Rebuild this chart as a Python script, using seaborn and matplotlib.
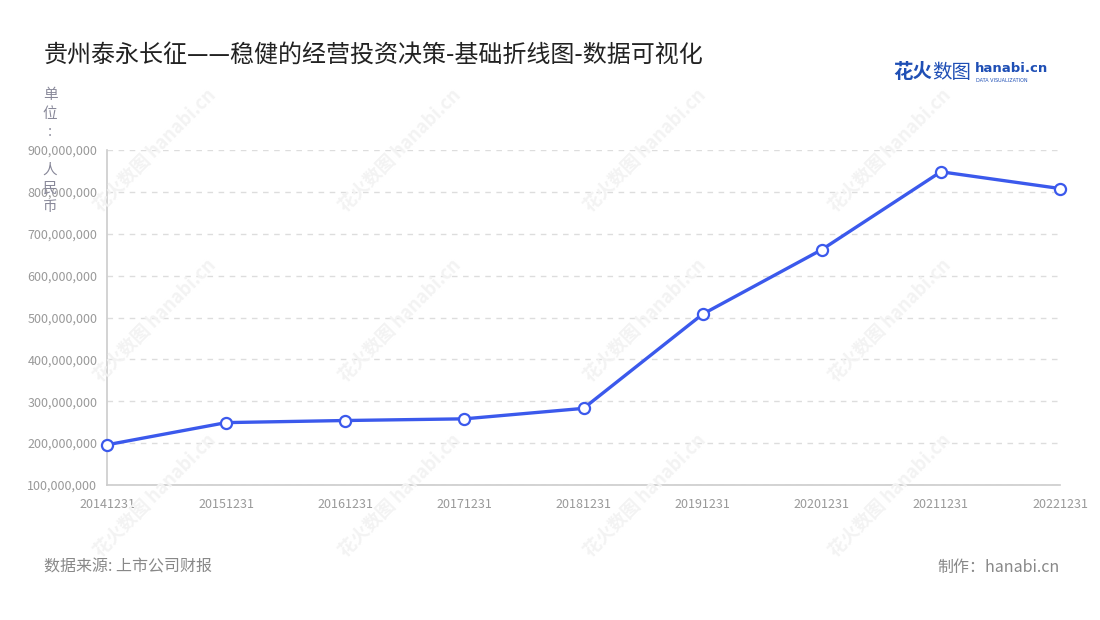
import pandas as pd
import matplotlib.pyplot as plt
import seaborn as sns
from matplotlib.ticker import FuncFormatter

# 数据：贵州泰永长征 投资活动现金流出（人民币）
dates = ['20141231', '20151231', '20161231', '20171231', '20181231',
         '20191231', '20201231', '20211231', '20221231']
values = [196000000, 249000000, 254000000, 258000000, 283000000,
          508000000, 662000000, 848000000, 808000000]
y_ticks = [100000000, 200000000, 300000000, 400000000, 500000000,
           600000000, 700000000, 800000000, 900000000]

df = pd.DataFrame({'date': dates, 'value': values})

sns.set_style("white")
plt.rcParams['font.family'] = ['Noto Sans CJK SC', 'DejaVu Sans']

fig = plt.figure(figsize=(11, 6.2), dpi=100)
ax = fig.add_axes([107 / 1100, 1 - 485 / 620, (1060 - 107) / 1100, (485 - 150) / 620])

line_color = '#3b59ec'
sns.lineplot(data=df, x='date', y='value', ax=ax, color=line_color, linewidth=2.4,
             marker='o', markersize=8, markerfacecolor='white',
             markeredgecolor=line_color, markeredgewidth=1.6, clip_on=False, zorder=5)

ax.set_xlim(0, len(dates) - 1)
ax.set_ylim(y_ticks[0], y_ticks[-1])
ax.set_yticks(y_ticks)
ax.yaxis.set_major_formatter(FuncFormatter(lambda v, p: f'{int(v):,}'))
ax.set_xlabel('')
ax.set_ylabel('')

# 网格和坐标轴
ax.grid(axis='y', linestyle=(0, (4, 4)), color='#dddddd', linewidth=1)
ax.grid(axis='x', visible=False)
for s in ['top', 'right']:
    ax.spines[s].set_visible(False)
for s in ['left', 'bottom']:
    ax.spines[s].set_color('#cccccc')
    ax.spines[s].set_linewidth(1.2)
ax.tick_params(axis='both', colors='#cccccc', labelcolor='#999999', labelsize=9,
               length=5, width=1, direction='out')
ax.tick_params(axis='y', pad=2)
ax.tick_params(axis='x', pad=4)

# 水印（很淡）
for wx in [155, 400, 645, 890]:
    for wy in [150, 320, 495]:
        fig.text(wx / 1100, 1 - wy / 620, '花火数图 hanabi.cn', rotation=45,
                 fontsize=13, color='#f3f3f3', ha='center', va='center',
                 fontweight='bold', zorder=0)

# 标题
fig.text(44 / 1100, 1 - 55 / 620, '贵州泰永长征——稳健的经营投资决策-基础折线图-数据可视化',
         fontsize=17.3, color='#222222', ha='left', va='center')

# 单位（竖排）
fig.text(50 / 1100, 1 - 88 / 620, '单\n位\n:', fontsize=10.5, color='#888899',
         ha='center', va='top', linespacing=1.42)
fig.text(50 / 1100, 1 - 163 / 620, '人\n民\n币', fontsize=10.5, color='#888899',
         ha='center', va='top', linespacing=1.42)

# logo
fig.text(893 / 1100, 1 - 73 / 620, '花火', fontsize=14, color='#1f4fb5',
         fontweight='bold', ha='left', va='center')
fig.text(932 / 1100, 1 - 73 / 620, '数图', fontsize=14, color='#1f4fb5',
         ha='left', va='center')
fig.text(975 / 1100, 1 - 69 / 620, 'hanabi.cn', fontsize=9.5, color='#1f4fb5',
         fontweight='bold', ha='left', va='center', family=['DejaVu Sans'])
fig.text(976 / 1100, 1 - 80 / 620, 'DATA VISUALIZATION', fontsize=3.5, color='#1f4fb5',
         ha='left', va='center', family=['DejaVu Sans'])

# 页脚
fig.text(44 / 1100, 1 - 567 / 620, '数据来源: 上市公司财报', fontsize=11.5, color='#888888',
         ha='left', va='center')
fig.text(1060 / 1100, 1 - 567 / 620, '制作：hanabi.cn', fontsize=11.5, color='#888888',
         ha='right', va='center')

fig.savefig('out.png', dpi=100)
plt.close(fig)
